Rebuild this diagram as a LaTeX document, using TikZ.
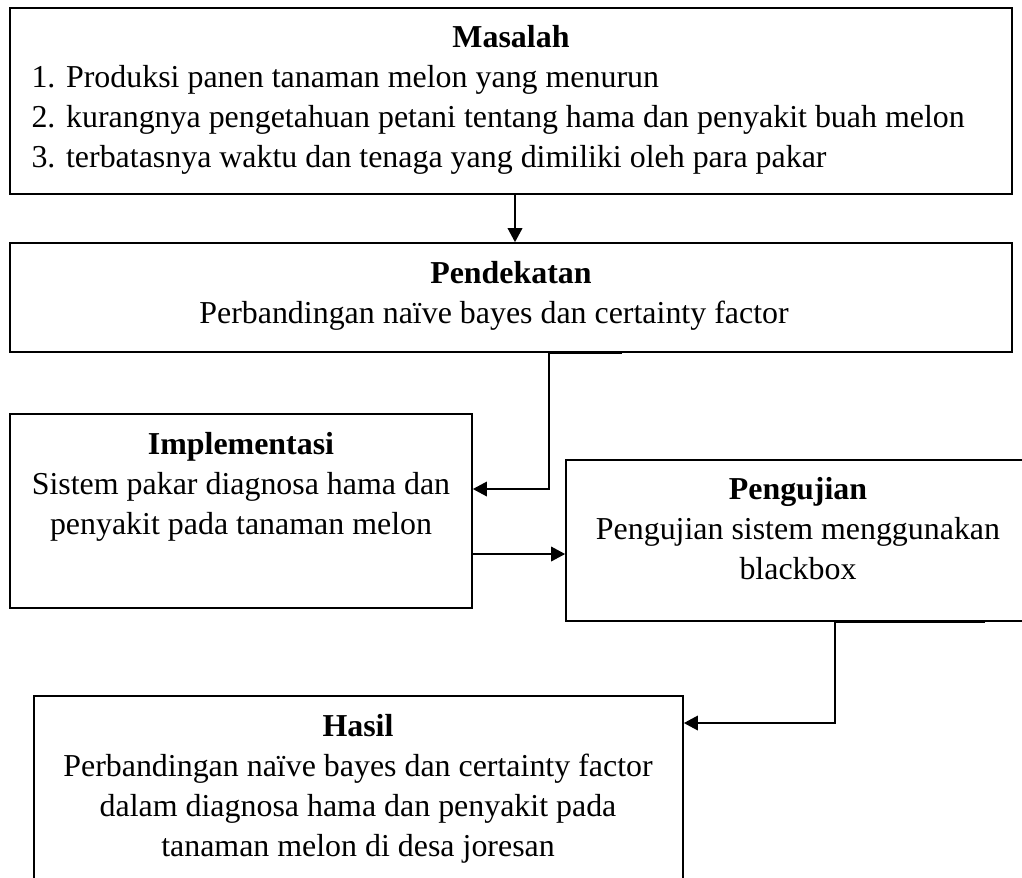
\documentclass[tikz,border=0pt]{standalone}
\usepackage{fontspec}
\setmainfont{Liberation Serif}
\usetikzlibrary{arrows.meta,calc,fit}

\begin{document}
\begin{tikzpicture}[x=0.376pt,y=-0.376pt,
  box/.style={draw,line width=0.6pt,inner sep=0pt},
  txt/.style={inner sep=0pt,anchor=north,align=center,font=\fontsize{12}{15}\selectfont},
  arr/.style={line width=0.9pt,-{Triangle[length=5.3pt,width=5.4pt]}}]
  \useasboundingbox (0,0) rectangle (1022,877);
  % the five boxes (Pengujian and Hasil run past the page edge)
  \node[box,fit={(10,8) (1012,194)}] (masalah) {};
  \node[box,fit={(10,243) (1012,352)}] (pendekatan) {};
  \node[box,fit={(10,414) (472,608)}] (implementasi) {};
  \node[box,fit={(566,460) (1032,621)}] (pengujian) {};
  \node[box,fit={(34,696) (683,900)}] (hasil) {};
  % texts
  \node[txt] (masalahT) at (511,25) {\textbf{Masalah}};
  \node[txt,anchor=north west,align=left] (masalahL) at (31,65)
    {1. Produksi panen tanaman melon yang menurun\\
     2. kurangnya pengetahuan petani tentang hama dan penyakit buah melon\\
     3. terbatasnya waktu dan tenaga yang dimiliki oleh para pakar};
  \node[txt] (pendekatanT) at (511,261)
    {\textbf{Pendekatan}\\Perbandingan naïve bayes dan certainty factor\hspace*{12.8pt}};
  \node[txt] (implementasiT) at (241,432)
    {\textbf{Implementasi}\\Sistem pakar diagnosa hama dan\\penyakit pada tanaman melon};
  \node[txt] (pengujianT) at (798,477)
    {\textbf{Pengujian}\\Pengujian sistem menggunakan\\blackbox};
  \node[txt] (hasilT) at (358,714)
    {\textbf{Hasil}\\Perbandingan naïve bayes dan certainty factor\\dalam diagnosa hama dan penyakit pada\\tanaman melon di desa joresan};
  % connectors
  \draw[arr] ($(masalah.south)+(4,0)$) -- ($(pendekatan.north)+(4,0)$);
  \draw[arr] ($(pendekatan.south)+(111,0)$) -| ($(implementasi.east)+(76,-22)$)
    -- ($(implementasi.east)+(0,-22)$);
  \draw[arr] ($(implementasi.east)+(0,43)$) -- ($(pengujian.west)+(0,13.5)$);
  \draw[arr] ($(pengujian.south)+(186,0)$) -| ($(hasil.east)+(151,-75)$)
    -- ($(hasil.east)+(0,-75)$);
\end{tikzpicture}
\end{document}
